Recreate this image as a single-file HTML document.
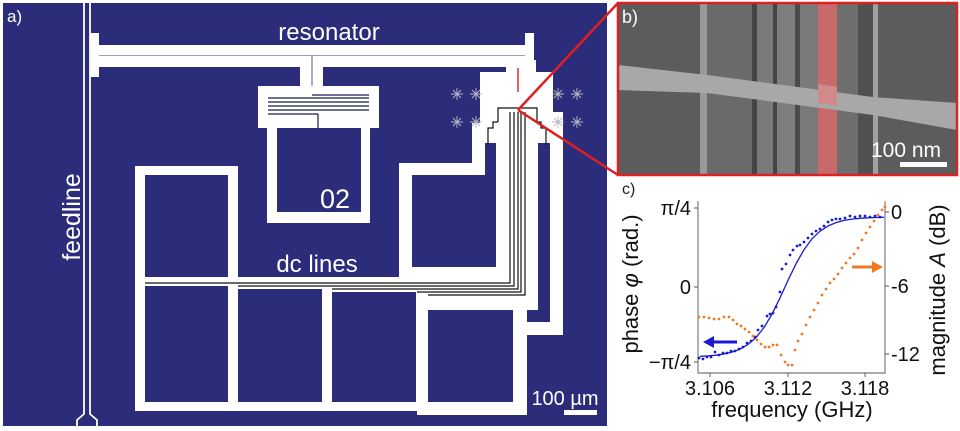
<!DOCTYPE html>
<html><head><meta charset="utf-8"><style>
html,body{margin:0;padding:0;background:#fff;}
svg{display:block;}
text{font-family:"Liberation Sans",sans-serif;}
.m{font-family:"DejaVu Sans","Liberation Sans",sans-serif;}
</style></head><body>
<svg width="960" height="431" viewBox="0 0 960 431" xmlns="http://www.w3.org/2000/svg">
<rect width="960" height="431" fill="#fff"/>
<rect x="3" y="3" width="604" height="423" fill="#2b2c7a"/>
<path d="M84,3 V414 L77,420 V426 M90,3 V414 L97,420 V426" stroke="#fff" stroke-width="1.8" fill="none"/>
<rect x="93" y="45" width="440" height="22" fill="#fff"/>
<line x1="96" y1="55.5" x2="530" y2="55.5" stroke="#9a9ccc" stroke-width="1"/>
<rect x="90" y="33" width="9" height="44" fill="#fff"/>
<rect x="525" y="33" width="9" height="30" fill="#fff"/>
<rect x="300" y="66" width="23" height="22" fill="#fff"/>
<line x1="312" y1="56" x2="312" y2="95" stroke="#5a5ca0" stroke-width="1"/>
<rect x="258" y="86" width="121" height="42" fill="#fff"/>
<g stroke="#1a1b50" stroke-width="1.2">
<line x1="312" y1="95" x2="369" y2="95"/><line x1="268" y1="98" x2="369" y2="98"/>
<line x1="268" y1="102" x2="369" y2="102"/><line x1="268" y1="106" x2="369" y2="106"/>
<line x1="268" y1="110" x2="369" y2="110"/><line x1="268" y1="114" x2="318" y2="114"/>
<line x1="318" y1="114" x2="318" y2="128"/>
</g>
<rect x="267" y="128" width="103" height="95" fill="#fff"/>
<rect x="277" y="128" width="84" height="84" fill="#2b2c7a"/>
<text x="320" y="208" font-size="27" fill="#fff" font-family="Liberation Mono">02</text>
<rect x="135" y="166" width="103" height="111" fill="#fff"/>
<rect x="145" y="175" width="83" height="102" fill="#2b2c7a"/>
<rect x="135" y="277" width="403" height="33" fill="#fff"/>
<rect x="135" y="310" width="392" height="101" fill="#fff"/>
<rect x="417" y="402" width="110" height="13" fill="#fff"/>
<rect x="145" y="286" width="83" height="116" fill="#2b2c7a"/>
<rect x="238" y="289" width="84" height="113" fill="#2b2c7a"/>
<rect x="332" y="292" width="84" height="110" fill="#2b2c7a"/>
<rect x="428" y="310" width="85" height="92" fill="#2b2c7a"/>
<rect x="399" y="163" width="86" height="12" fill="#fff"/>
<rect x="399" y="163" width="13" height="114" fill="#fff"/>
<rect x="472" y="123" width="13" height="52" fill="#fff"/>
<rect x="496" y="120" width="42" height="190" fill="#fff"/>
<rect x="399" y="267" width="139" height="12" fill="#fff"/>
<rect x="412" y="175" width="84" height="92" fill="#2b2c7a"/>
<rect x="550" y="115" width="13" height="220" fill="#fff"/>
<rect x="513" y="322" width="50" height="13" fill="#fff"/>
<rect x="513" y="322" width="14" height="93" fill="#fff"/>
<rect x="480" y="72" width="73" height="71" fill="#fff"/>
<rect x="506" y="60" width="30" height="15" fill="#fff"/>
<rect x="553" y="112" width="10" height="32" fill="#fff"/>
<g stroke="#111" stroke-width="1.2" fill="none">
<polyline points="498,122 498,108 537,108 537,122 541,122 541,128 546,128 546,145"/>
<polyline points="498,122 493,122 493,128 488,128 488,145"/>
<path d="M510,112 V283 H145 M514,112 V286 H238 M518,112 V289 H332 M521,112 V292 H417 M525,112 V295 H428"/>
</g>
<line x1="518" y1="68" x2="518" y2="92" stroke="#e03030" stroke-width="1.5"/>
<g stroke="#b8b8c8" stroke-width="0.9">
<path d="M451,94h12M457,88v12M453,90l8,8M453,98l8,-8"/>
<path d="M470,94h12M476,88v12M472,90l8,8M472,98l8,-8"/>
<path d="M451,122h12M457,116v12M453,118l8,8M453,126l8,-8"/>
<path d="M470,122h12M476,116v12M472,118l8,8M472,126l8,-8"/>
<path d="M552,94h12M558,88v12M554,90l8,8M554,98l8,-8"/>
<path d="M571,94h12M577,88v12M573,90l8,8M573,98l8,-8"/>
<path d="M552,122h12M558,116v12M554,118l8,8M554,126l8,-8"/>
<path d="M571,122h12M577,116v12M573,118l8,8M573,126l8,-8"/>
</g>
<text x="7" y="22" font-size="17" fill="#fff">a)</text>
<text x="329" y="40" font-size="24" fill="#fff" text-anchor="middle">resonator</text>
<text x="317" y="272" font-size="24" fill="#fff" text-anchor="middle">dc lines</text>
<text transform="translate(80,217) rotate(-90)" font-size="25" fill="#fff" text-anchor="middle">feedline</text>
<text x="565" y="405" font-size="20" fill="#fff" text-anchor="middle">100 µm</text>
<rect x="564" y="410" width="33" height="5" fill="#fff"/>
<rect x="618" y="3" width="339" height="172" fill="#5c5c5c"/>
<rect x="707" y="3" width="45" height="172" fill="#6a6a6a"/>
<rect x="700" y="3" width="7" height="172" fill="#9a9a9a"/>
<rect x="752" y="3" width="5" height="172" fill="#444"/>
<rect x="757" y="3" width="16" height="172" fill="#7a7a7a"/>
<rect x="773" y="3" width="4" height="172" fill="#444"/>
<rect x="777" y="3" width="18" height="172" fill="#7e7e7e"/>
<rect x="795" y="3" width="5" height="172" fill="#4a4a4a"/>
<rect x="800" y="3" width="18" height="172" fill="#7a7a7a"/>
<rect x="818" y="3" width="19" height="172" fill="#c86a6a"/>
<rect x="837" y="3" width="21" height="172" fill="#6e6e6e"/>
<rect x="858" y="3" width="15" height="172" fill="#505050"/>
<rect x="873" y="3" width="5" height="172" fill="#a0a0a0"/>
<polygon points="618,65 707,75 873,97 957,103 957,130 873,115 707,93 618,90" fill="#a8a8a8"/>
<polygon points="818,84 837,87 837,106 818,103" fill="#d08a8a"/>
<text x="622" y="23" font-size="18" fill="#fff">b)</text>
<text x="906" y="157" font-size="21" fill="#fff" text-anchor="middle">100 nm</text>
<rect x="900" y="162" width="47" height="5" fill="#fff"/>
<rect x="618" y="3" width="339" height="172" fill="none" stroke="#e02020" stroke-width="2.5"/>
<line x1="518" y1="110" x2="618" y2="3" stroke="#e02020" stroke-width="2.5"/>
<line x1="518" y1="110" x2="618" y2="175" stroke="#e02020" stroke-width="2.5"/>
<text x="622" y="194" font-size="16" fill="#222">c)</text>
<g stroke="#555" stroke-width="0.9" fill="none">
<path d="M698,201V373H885V201"/>
<path d="M698,208h-4M698,287h-4M698,362h-4M885,212h4M885,286h4M885,354h4M710,373v4M788,373v4M865,373v4"/>
</g>
<g class="m" font-size="20" fill="#111">
<text x="691" y="215" text-anchor="end">π/4</text>
<text x="691" y="294" text-anchor="end">0</text>
<text x="691" y="369" text-anchor="end">−π/4</text>
<text x="891" y="219">0</text>
<text x="891" y="293">-6</text>
<text x="891" y="361">-12</text>
<text x="710" y="395" text-anchor="middle">3.106</text>
<text x="788" y="395" text-anchor="middle">3.112</text>
<text x="865" y="395" text-anchor="middle">3.118</text>
</g>
<g class="m" font-size="22" fill="#111">
<text x="792" y="417" text-anchor="middle">frequency (GHz)</text>
<text transform="translate(638,284) rotate(-90)" text-anchor="middle">phase <tspan font-style="italic">φ</tspan> (rad.)</text>
<text transform="translate(945,290) rotate(-90)" text-anchor="middle">magnitude <tspan font-style="italic">A</tspan> (dB)</text>
</g>
<polyline fill="none" stroke="#1a1ad0" stroke-width="1.3" points="700,356.3 708,355.9 716,355.2 724,354 732,352.1 740,349.1 748,344.5 756,337.5 764,327.5 772,314.2 780,297.9 788,280.4 796,263.8 804,249.7 812,238.8 820,231.2 828,226 836,222.6 844,220.4 852,219.1 860,218.3 868,217.8 876,217.5 884,217.3"/>
<g fill="#1a1ad0">
<circle cx="699" cy="358" r="1.4"/><circle cx="703" cy="359" r="1.4"/><circle cx="707" cy="357" r="1.4"/><circle cx="711" cy="357" r="1.4"/><circle cx="715" cy="352" r="1.4"/><circle cx="719" cy="355" r="1.4"/><circle cx="723" cy="353" r="1.4"/><circle cx="727" cy="353" r="1.4"/><circle cx="731" cy="351" r="1.4"/><circle cx="735" cy="351" r="1.4"/><circle cx="739" cy="349" r="1.4"/><circle cx="743" cy="347" r="1.4"/><circle cx="747" cy="343" r="1.4"/><circle cx="751" cy="341" r="1.4"/><circle cx="755" cy="337" r="1.4"/><circle cx="758" cy="330" r="1.4"/><circle cx="762" cy="326" r="1.4"/><circle cx="767" cy="316" r="1.4"/><circle cx="770" cy="314" r="1.4"/><circle cx="773" cy="313" r="1.4"/><circle cx="776" cy="307" r="1.4"/><circle cx="780" cy="292" r="1.4"/><circle cx="782" cy="269" r="1.4"/><circle cx="786" cy="264" r="1.4"/><circle cx="790" cy="255" r="1.4"/><circle cx="793" cy="250" r="1.4"/><circle cx="797" cy="246" r="1.4"/><circle cx="800" cy="245" r="1.4"/><circle cx="804" cy="242" r="1.4"/><circle cx="808" cy="238" r="1.4"/><circle cx="812" cy="234" r="1.4"/><circle cx="816" cy="231" r="1.4"/><circle cx="820" cy="229" r="1.4"/><circle cx="824" cy="226" r="1.4"/><circle cx="828" cy="222" r="1.4"/><circle cx="832" cy="220" r="1.4"/><circle cx="836" cy="219" r="1.4"/><circle cx="840" cy="219" r="1.4"/><circle cx="845" cy="218" r="1.4"/><circle cx="850" cy="216" r="1.4"/><circle cx="855" cy="217" r="1.4"/><circle cx="860" cy="216" r="1.4"/><circle cx="865" cy="216" r="1.4"/><circle cx="870" cy="217" r="1.4"/><circle cx="875" cy="216" r="1.4"/><circle cx="880" cy="217" r="1.4"/>
</g>
<g fill="#f07820">
<circle cx="699" cy="317" r="1.4"/><circle cx="704" cy="317" r="1.4"/><circle cx="709" cy="318" r="1.4"/><circle cx="714" cy="319" r="1.4"/><circle cx="719" cy="319" r="1.4"/><circle cx="724" cy="317" r="1.4"/><circle cx="729" cy="317" r="1.4"/><circle cx="733" cy="320" r="1.4"/><circle cx="737" cy="324" r="1.4"/><circle cx="741" cy="326" r="1.4"/><circle cx="745" cy="329" r="1.4"/><circle cx="749" cy="332" r="1.4"/><circle cx="753" cy="336" r="1.4"/><circle cx="757" cy="340" r="1.4"/><circle cx="761" cy="344" r="1.4"/><circle cx="765" cy="347" r="1.4"/><circle cx="769" cy="347" r="1.4"/><circle cx="773" cy="345" r="1.4"/><circle cx="777" cy="345" r="1.4"/><circle cx="781" cy="355" r="1.4"/><circle cx="785" cy="362" r="1.4"/><circle cx="788" cy="365" r="1.4"/><circle cx="792" cy="365" r="1.4"/><circle cx="795" cy="350" r="1.4"/><circle cx="798" cy="341" r="1.4"/><circle cx="802" cy="334" r="1.4"/><circle cx="806" cy="325" r="1.4"/><circle cx="810" cy="317" r="1.4"/><circle cx="814" cy="310" r="1.4"/><circle cx="818" cy="303" r="1.4"/><circle cx="822" cy="295" r="1.4"/><circle cx="826" cy="289" r="1.4"/><circle cx="830" cy="283" r="1.4"/><circle cx="834" cy="279" r="1.4"/><circle cx="838" cy="274" r="1.4"/><circle cx="842" cy="268" r="1.4"/><circle cx="846" cy="263" r="1.4"/><circle cx="850" cy="258" r="1.4"/><circle cx="854" cy="254" r="1.4"/><circle cx="858" cy="248" r="1.4"/><circle cx="862" cy="240" r="1.4"/><circle cx="866" cy="233" r="1.4"/><circle cx="870" cy="227" r="1.4"/><circle cx="874" cy="221" r="1.4"/><circle cx="878" cy="215" r="1.4"/><circle cx="882" cy="210" r="1.4"/><circle cx="885" cy="207" r="1.4"/>
</g>
<line x1="737" y1="342" x2="712" y2="342" stroke="#1a1ad0" stroke-width="3"/>
<polygon points="703,342 714,336 714,348" fill="#1a1ad0"/>
<line x1="852" y1="267" x2="874" y2="267" stroke="#f07820" stroke-width="3"/>
<polygon points="883,267 872,261 872,273" fill="#f07820"/>
</svg>
</body></html>
